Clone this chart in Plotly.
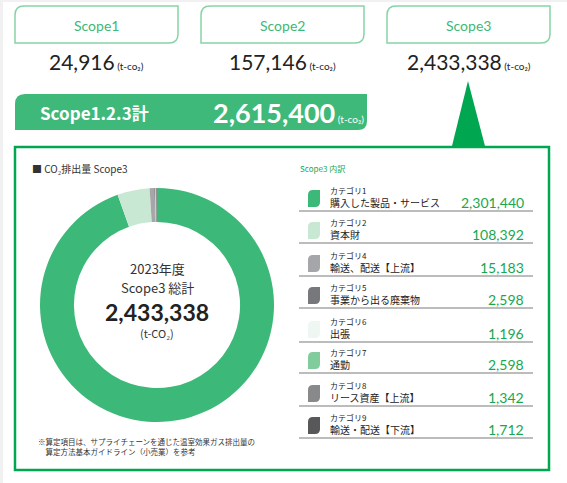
import plotly.graph_objects as go

# ---------------- data ----------------
scope_labels = ["Scope1", "Scope2", "Scope3"]
scope_values = [24916, 157146, 2433338]
total_label = "Scope1.2.3計"
total_value = 2615400
year_label = "2023年度"
scope3_total = 2433338

cat_numbers = ["カテゴリ1", "カテゴリ2", "カテゴリ4", "カテゴリ5",
               "カテゴリ6", "カテゴリ7", "カテゴリ8", "カテゴリ9"]
cat_names = ["購入した製品・サービス", "資本財", "輸送、配送【上流】", "事業から出る廃棄物",
             "出張", "通勤", "リース資産【上流】", "輸送・配送【下流】"]
cat_values = [2301440, 108392, 15183, 2598, 1196, 2598, 1342, 1712]
cat_colors = ["#3cb878", "#c9e8d4", "#a5a6a9", "#77787b",
              "#eef7f1", "#80cc9c", "#88898b", "#58585a"]

W, H = 567, 483
JP = "Noto Sans CJK JP"
NUM = "Lato"
GREEN = "#3cb878"
DGREEN = "#00a650"
VGREEN = "#17a84e"


def X(px):
    return px / W


def Y(py):
    return 1 - py / H


def rrect(x0, y0, x1, y1, tl=0, tr=0, br=0, bl=0):
    pts = []
    pts.append(f"M{X(x0+tl)},{Y(y0)}")
    pts.append(f"L{X(x1-tr)},{Y(y0)}")
    if tr:
        pts.append(f"Q{X(x1)},{Y(y0)} {X(x1)},{Y(y0+tr)}")
    pts.append(f"L{X(x1)},{Y(y1-br)}")
    if br:
        pts.append(f"Q{X(x1)},{Y(y1)} {X(x1-br)},{Y(y1)}")
    pts.append(f"L{X(x0+bl)},{Y(y1)}")
    if bl:
        pts.append(f"Q{X(x0)},{Y(y1)} {X(x0)},{Y(y1-bl)}")
    pts.append(f"L{X(x0)},{Y(y0+tl)}")
    if tl:
        pts.append(f"Q{X(x0)},{Y(y0)} {X(x0+tl)},{Y(y0)}")
    pts.append("Z")
    return " ".join(pts)


shapes = []
annotations = []


def ann(px, py, text, size, color="#222", family=JP, xanchor="center", yanchor="middle", align="center"):
    annotations.append(dict(
        x=X(px), y=Y(py), xref="paper", yref="paper", text=text, showarrow=False,
        xanchor=xanchor, yanchor=yanchor, align=align,
        font=dict(size=size, color=color, family=family),
    ))


unit = "<span style='font-size:10px'> (t-co₂)</span>"

# light page frame
shapes.append(dict(type="rect", xref="paper", yref="paper", x0=0, x1=1, y0=Y(2), y1=1,
                   fillcolor="#f1f1f1", line=dict(width=0), layer="below"))
shapes.append(dict(type="rect", xref="paper", yref="paper", x0=0, x1=X(3), y0=0, y1=1,
                   fillcolor="#f1f1f1", line=dict(width=0), layer="below"))

# scope boxes
box_x = [15, 201, 387]
for i, lab in enumerate(scope_labels):
    x0 = box_x[i]
    x1 = x0 + 163
    shapes.append(dict(type="path", xref="paper", yref="paper",
                       path=rrect(x0, 6, x1, 43, tl=9, br=9),
                       fillcolor="white", line=dict(color="#86d3a5", width=1.5)))
    ann((x0 + x1) / 2, 25, lab, 14, color=GREEN, family=NUM)
    ann((x0 + x1) / 2, 61, f"{scope_values[i]:,}" + unit, 21, color="#222", family=NUM)

# total banner
shapes.append(dict(type="path", xref="paper", yref="paper",
                   path=rrect(15, 94, 367, 130, tl=10, br=9),
                   fillcolor="#3eb97a", line=dict(width=0)))
ann(38, 112, f"<b>{total_label}</b>", 17, color="white", family=JP, xanchor="left")
ann(366, 113, f"<b>{total_value:,}</b>" + unit, 27, color="white", family=NUM, xanchor="right")

# main box + pointer triangle
shapes.append(dict(type="rect", xref="paper", yref="paper", x0=X(15), x1=X(549), y0=Y(470), y1=Y(147),
                   fillcolor="white", line=dict(color=DGREEN, width=2.5), layer="below"))
shapes.append(dict(type="path", xref="paper", yref="paper",
                   path=f"M{X(468)},{Y(81)} L{X(485.5)},{Y(148)} L{X(451.5)},{Y(148)} Z",
                   fillcolor=DGREEN, line=dict(width=0)))

# left panel title
ann(30, 168, "■ CO₂排出量 Scope3", 10, color="#333", xanchor="left")

# donut
cx, cy, r = 157, 305, 117
fig = go.Figure()
fig.add_trace(go.Pie(
    labels=[f"{a} {b}" for a, b in zip(cat_numbers, cat_names)],
    values=cat_values,
    marker=dict(colors=cat_colors, line=dict(width=0)),
    hole=0.71, sort=False, direction="clockwise", rotation=0,
    textinfo="none", hoverinfo="label+value", showlegend=False,
    domain=dict(x=[X(cx - r), X(cx + r)], y=[Y(cy + r), Y(cy - r)]),
))

ann(cx, 268, year_label, 13, color="#333")
ann(cx, 287, "Scope3 総計", 13, color="#333")
ann(cx, 312, f"<b>{scope3_total:,}</b>", 23, color="#222", family=NUM)
ann(cx, 333, "(t-CO₂)", 11, color="#333")

# footnote
ann(36, 446.5, "※算定項目は、サプライチェーンを通じた温室効果ガス排出量の<br>\u3000算定方法基本ガイドライン（小売業）を参考",
    7.5, color="#333", xanchor="left", align="left")

# right panel
ann(298, 168, "Scope3 内訳", 8, color=VGREEN, xanchor="left")
line_y = [211, 243, 276, 308, 342, 373, 406, 438]
for i in range(len(cat_values)):
    L = line_y[i]
    shapes.append(dict(type="path", xref="paper", yref="paper",
                       path=rrect(308, L - 21, 320, L - 4, tl=5, br=5),
                       fillcolor=cat_colors[i], line=dict(width=0)))
    ann(328, L - 13.5, f"<span style='font-size:8px'>{cat_numbers[i]}</span><br>{cat_names[i]}",
        10, color="#222", xanchor="left", align="left")
    ann(526, L - 9, f"{cat_values[i]:,}", 14, color=VGREEN, family=NUM, xanchor="right")
    shapes.append(dict(type="line", xref="paper", yref="paper", x0=X(299), x1=X(533),
                       y0=Y(L), y1=Y(L), line=dict(color="#7a7a7a", width=1.2)))

fig.update_layout(
    width=W, height=H, margin=dict(l=0, r=0, t=0, b=0),
    paper_bgcolor="white", plot_bgcolor="white",
    shapes=shapes, annotations=annotations, showlegend=False,
)
fig.write_html("out.html", config={"displayModeBar": False},
               post_script="document.body.style.margin='0';")
